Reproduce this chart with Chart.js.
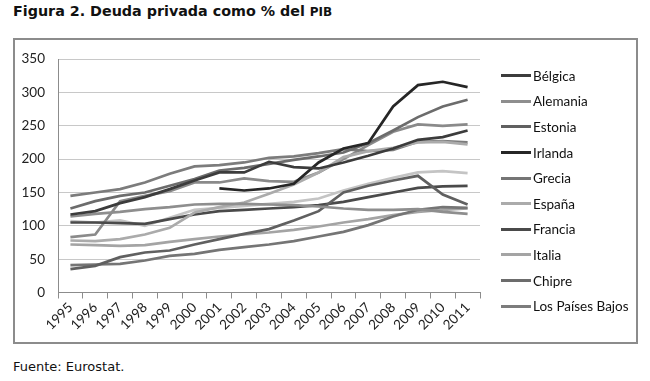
<!DOCTYPE html>
<html>
<head>
<meta charset="utf-8">
<script src="https://cdn.jsdelivr.net/npm/chart.js@4.4.1/dist/chart.umd.min.js"></script>
<style>
body{margin:0;background:#fff;width:650px;height:381px;position:relative;overflow:hidden}
#title{position:absolute;left:13px;top:3px;font:bold 14.3px "DejaVu Sans",sans-serif;color:#111;white-space:nowrap}
#title span{font-size:12px}
#box{position:absolute;left:13px;top:38px;width:621px;height:302px;border:2px solid #8c8c8c}
#chart{position:absolute;left:13px;top:38px}
#legend{position:absolute;left:501px;top:63px;font:13.5px "Lato",sans-serif;color:#111}
#legend div{height:25.6px;line-height:20px;display:flex;align-items:center;white-space:nowrap}
#legend i{display:inline-block;width:30px;height:3px;margin-right:2px}
#source{position:absolute;left:13px;top:359px;font:13px "DejaVu Sans",sans-serif;color:#111}
</style>
</head>
<body>
<div id="title">Figura 2. Deuda privada como % del <span>PIB</span></div>
<div id="box"></div>
<canvas id="chart" width="624" height="305"></canvas>
<div id="legend"></div>
<div id="source">Fuente: Eurostat.</div>
<script>
// años
const years = ["1995","1996","1997","1998","1999","2000","2001","2002","2003","2004","2005","2006","2007","2008","2009","2010","2011"]
const yTicks = [0,50,100,150,200,250,300,350]

// series (% PIB)
const belgica   = [117,122,134,143,155,168,180,180,196,188,186,195,205,216,229,233,243]
const alemania  = [114,118,121,125,128,132,133,133,132,131,129,126,124,124,125,121,118]
const estonia   = [35,40,53,60,63,72,80,88,95,108,122,150,160,168,175,147,132]
const irlanda   = [null,null,null,null,null,null,156,153,156,163,195,216,224,279,311,316,308]
const grecia    = [41,42,43,48,55,58,64,68,72,77,84,91,101,114,124,128,127]
const espana    = [78,77,80,87,97,120,128,135,148,162,180,203,212,217,225,226,222]
const francia   = [105,105,104,103,110,117,122,124,126,128,131,136,143,150,157,159,160]
const italia    = [72,71,70,71,76,80,84,87,90,94,99,105,110,116,121,124,126]
const chipre    = [126,137,145,150,160,170,183,187,193,199,204,210,224,243,263,279,289]
const paisesBajos = [145,150,155,165,178,189,191,195,202,204,209,215,212,214,226,227,225]
// series sin entrada en la leyenda (leyenda cortada en el original)
const portugal  = [83,87,137,145,152,165,165,171,167,166,180,200,221,241,252,250,252]
const finlandia = [107,105,108,100,112,124,127,130,133,136,141,153,163,172,180,182,179]

const series = [
  {label:"Bélgica", data:belgica, color:"#3c3c3c", legend:true},
  {label:"Alemania", data:alemania, color:"#8e8e8e", legend:true},
  {label:"Estonia", data:estonia, color:"#606060", legend:true},
  {label:"Irlanda", data:irlanda, color:"#262626", legend:true},
  {label:"Grecia", data:grecia, color:"#757575", legend:true},
  {label:"España", data:espana, color:"#ababab", legend:true},
  {label:"Francia", data:francia, color:"#4a4a4a", legend:true},
  {label:"Italia", data:italia, color:"#a4a4a4", legend:true},
  {label:"Chipre", data:chipre, color:"#6c6c6c", legend:true},
  {label:"Los Países Bajos", data:paisesBajos, color:"#7c7c7c", legend:true},
  {label:"Portugal", data:portugal, color:"#8a8a8a", legend:false},
  {label:"Finlandia", data:finlandia, color:"#c4c4c4", legend:false}
]

const font = {family:"Lato, sans-serif", size:13.5}

new Chart(document.getElementById("chart"), {
  type:"line",
  data:{
    labels:years,
    datasets:series.map(s=>({
      label:s.label,
      data:s.data,
      borderColor:s.color,
      backgroundColor:s.color,
      borderWidth:2.7,
      pointRadius:0,
      tension:0,
      spanGaps:false
    }))
  },
  options:{
    responsive:false,
    animation:false,
    devicePixelRatio:1,
    layout:{padding:{left:0,right:157,top:14,bottom:0}},
    plugins:{legend:{display:false},tooltip:{enabled:false}},
    scales:{
      x:{
        offset:true,
        grid:{drawOnChartArea:false,drawTicks:true,tickLength:6,color:"#8c8c8c",offset:true},
        border:{color:"#8c8c8c",width:1},
        ticks:{color:"#222",font:font,maxRotation:45,minRotation:45,autoSkip:false,padding:1},
        afterFit:s=>{s.height=50.5}
      },
      y:{
        min:0,max:350,
        afterBuildTicks:s=>{s.ticks=yTicks.map(v=>({value:v}))},
        grid:{color:"#c8c8c8",drawTicks:false,lineWidth:1},
        border:{color:"#8c8c8c",width:1},
        ticks:{color:"#222",font:font,padding:13},
        afterFit:s=>{s.width=45}
      }
    }
  }
})

// leyenda
const legend = document.getElementById("legend")
series.filter(s=>s.legend).forEach(s=>{
  const row = document.createElement("div")
  const sw = document.createElement("i")
  sw.style.background = s.color
  row.appendChild(sw)
  row.appendChild(document.createTextNode(s.label))
  legend.appendChild(row)
})
</script>
</body>
</html>
